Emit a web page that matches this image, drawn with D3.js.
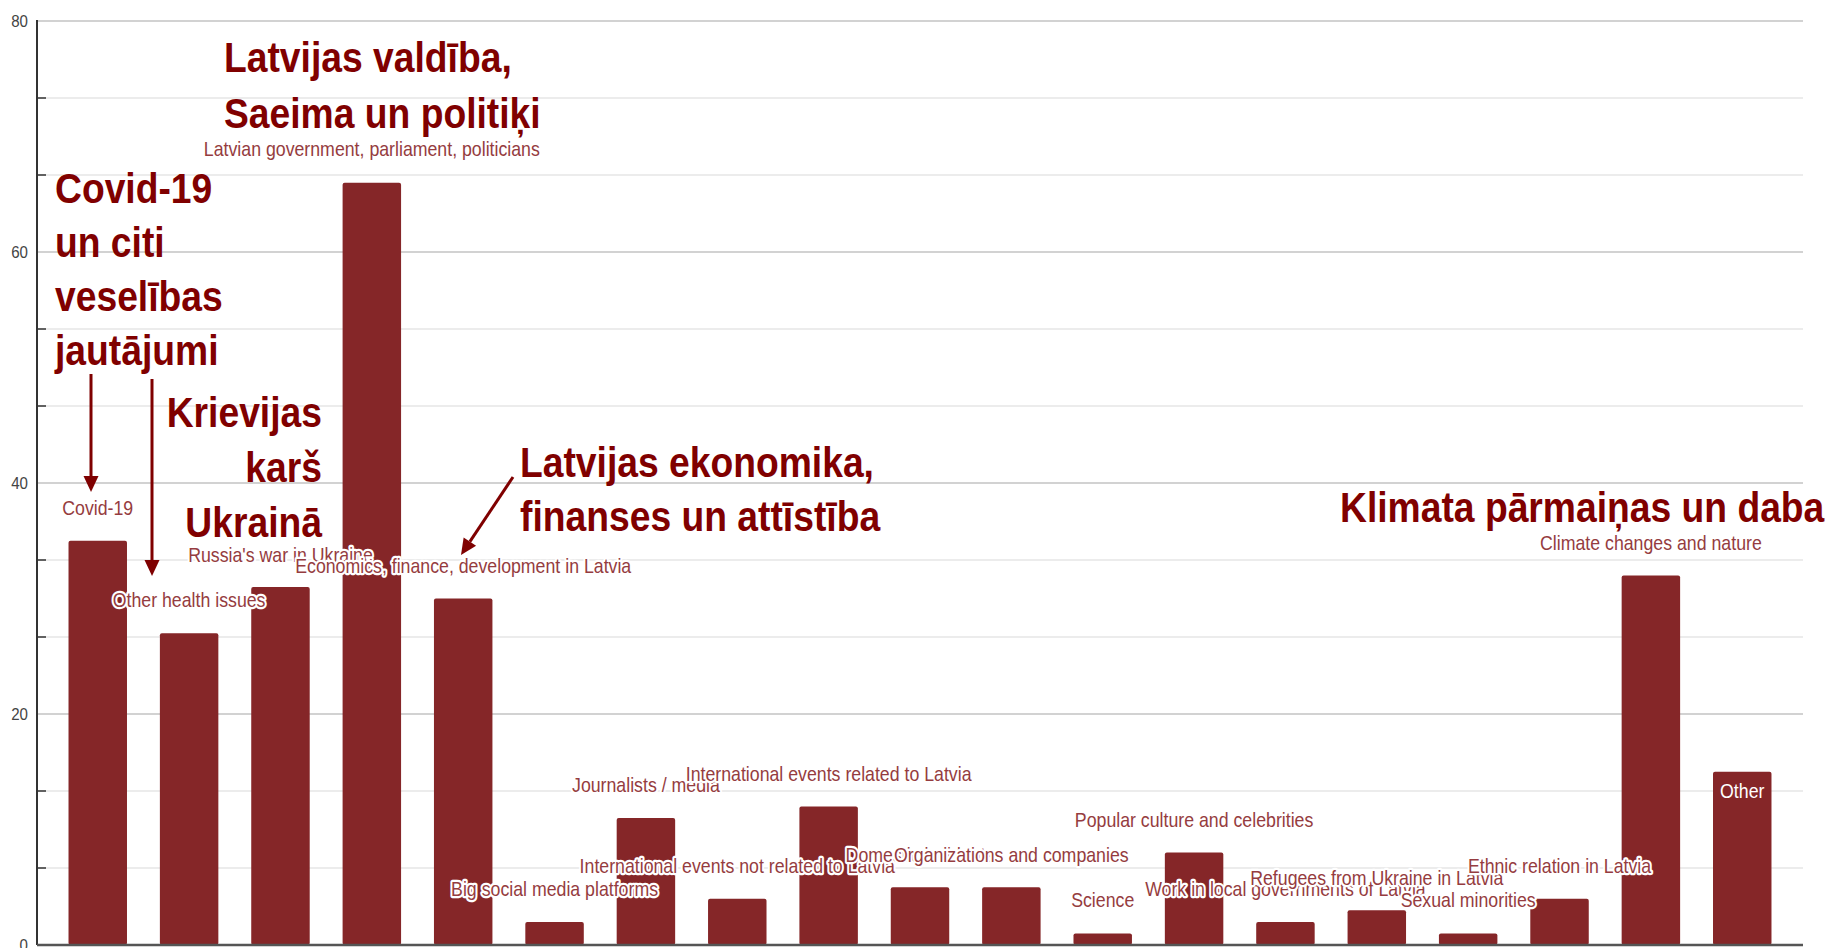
<!DOCTYPE html>
<html>
<head>
<meta charset="utf-8">
<script src="https://cdn.jsdelivr.net/npm/d3@7"></script>
<style>
  body { margin: 0; background: #fff; }
  svg { display: block; }
  text { font-family: "Liberation Sans", Arial, sans-serif; }
</style>
</head>
<body>
<svg id="chart" width="1826" height="948"></svg>
<script>
// data
const categories = [
    "Covid-19", "Other health issues", "Russia's war in Ukraine",
    "Latvian government, parliament, politicians",
    "Economics, finance, development in Latvia",
    "Big social media platforms", "Journalists / media",
    "International events not related to Latvia",
    "International events related to Latvia",
    "Domestic incidents", "Organizations and companies", "Science",
    "Popular culture and celebrities", "Work in local governments of Latvia",
    "Refugees from Ukraine in Latvia", "Sexual minorities",
    "Ethnic relation in Latvia", "Climate changes and nature", "Other"
];
const values = [35, 27, 31, 66, 30, 2, 11, 4, 12, 5, 5, 1, 8, 2, 3, 1, 4, 32, 15];
// where each annotation label sits, in value units
const labelAt = [37.2, 29.3, 33.2, 68.3, 32.2, 4.2, 13.25, 6.25, 14.2, 7.2, 7.2, 3.3, 10.2, 4.25, 5.2, 3.3, 6.2, 34.2, 12.7];
const yTicks = d3.range(0, 80.001, 80 / 12);
const yLabels = [0, 20, 40, 60, 80];

// big Latvian headings
const notes = [
    { lines: ["Latvijas valdība,", "Saeima un politiķi"], x: 224, y: 72, anchor: "start", lh: 56 },
    { lines: ["Covid-19", "un citi", "veselības", "jautājumi"], x: 55, y: 203, anchor: "start", lh: 54 },
    { lines: ["Krievijas", "karš", "Ukrainā"], x: 322, y: 427, anchor: "end", lh: 55 },
    { lines: ["Latvijas ekonomika,", "finanses un attīstība"], x: 520, y: 477, anchor: "start", lh: 54 },
    { lines: ["Klimata pārmaiņas un daba"], x: 1340, y: 522, anchor: "start", lh: 54 }
];
const arrows = [
    [[91, 374], [91, 492]],
    [[152, 379], [152, 576]],
    [[513, 477], [461, 555]]
];

const svg = d3.select("#chart");
const W = 1826, H = 948;
const mLeft = 37, mRight = 1803, mTop = 21, mBottom = 945;
const squish = 0.887;

svg.append("rect").attr("width", W).attr("height", H).attr("fill", "#fff");

const x = d3.scaleBand().domain(categories).range([mLeft, mRight])
    .paddingInner(0.36).paddingOuter(0.345);
const y = d3.scaleLinear().domain([0, 80]).range([mBottom, mTop]);

function addText(g, tx, ty, str) {
    return g.append("text")
        .attr("transform", "translate(" + tx + "," + ty + ") scale(" + squish + ",1)")
        .text(str);
}

// gridlines
const grid = svg.append("g");
yTicks.forEach(function (t, i) {
    const major = i % 3 == 0;
    grid.append("line")
        .attr("x1", mLeft).attr("x2", mRight)
        .attr("y1", y(t)).attr("y2", y(t))
        .attr("stroke", major ? "#d2d2d2" : "#e6e6e6")
        .attr("stroke-width", major ? 2 : 1.5);
    if (!major) {
        grid.append("line")
            .attr("x1", mLeft).attr("x2", mLeft + 9)
            .attr("y1", y(t)).attr("y2", y(t))
            .attr("stroke", "#333").attr("stroke-width", 1.5);
    }
});

yLabels.forEach(function (t) {
    addText(svg, mLeft - 9, y(t), t)
        .attr("text-anchor", "end")
        .attr("dominant-baseline", "central")
        .attr("font-size", 17)
        .attr("fill", "#444");
});

// bars
svg.append("g").selectAll("rect")
    .data(values)
    .enter()
    .append("rect")
    .attr("x", (d, i) => x(categories[i]))
    .attr("y", d => y(d))
    .attr("width", x.bandwidth())
    .attr("height", d => y(0) - y(d))
    .attr("rx", 2)
    .attr("fill", "#852628");

// axes lines
svg.append("line").attr("x1", mLeft).attr("x2", mLeft).attr("y1", mTop - 1).attr("y2", mBottom)
    .attr("stroke", "#333").attr("stroke-width", 2);
svg.append("line").attr("x1", mLeft).attr("x2", mRight).attr("y1", mBottom).attr("y2", mBottom)
    .attr("stroke", "#555").attr("stroke-width", 2.5);

// small english labels, drawn in order so later halos cover earlier text
const lab = svg.append("g");
categories.forEach(function (c, i) {
    const inside = labelAt[i] < values[i];
    const t = addText(lab, x(c) + x.bandwidth() / 2, y(labelAt[i]), c)
        .attr("text-anchor", "middle")
        .attr("font-size", 20);
    if (inside) {
        t.attr("fill", "#fff");
    } else {
        t.attr("fill", "#953c40")
            .attr("stroke", "#fff").attr("stroke-width", 4.5)
            .attr("stroke-linejoin", "round")
            .attr("paint-order", "stroke");
    }
});

// arrows
const arr = svg.append("g");
arrows.forEach(function (a) {
    const [p0, p1] = a;
    const ang = Math.atan2(p1[1] - p0[1], p1[0] - p0[0]);
    const len = 16, half = 7.5;
    const bx = p1[0] - len * Math.cos(ang), by = p1[1] - len * Math.sin(ang);
    arr.append("line")
        .attr("x1", p0[0]).attr("y1", p0[1]).attr("x2", bx).attr("y2", by)
        .attr("stroke", "#7f0000").attr("stroke-width", 3);
    const px = -Math.sin(ang), py = Math.cos(ang);
    arr.append("path")
        .attr("d", "M" + p1[0] + "," + p1[1] +
            "L" + (bx + px * half) + "," + (by + py * half) +
            "L" + (bx - px * half) + "," + (by - py * half) + "Z")
        .attr("fill", "#7f0000");
});

// big headings
const big = svg.append("g");
notes.forEach(function (n) {
    n.lines.forEach(function (line, j) {
        addText(big, n.x, n.y + j * n.lh, line)
            .attr("text-anchor", n.anchor)
            .attr("font-size", 42)
            .attr("font-weight", "bold")
            .attr("fill", "#800000");
    });
});
</script>
</body>
</html>
